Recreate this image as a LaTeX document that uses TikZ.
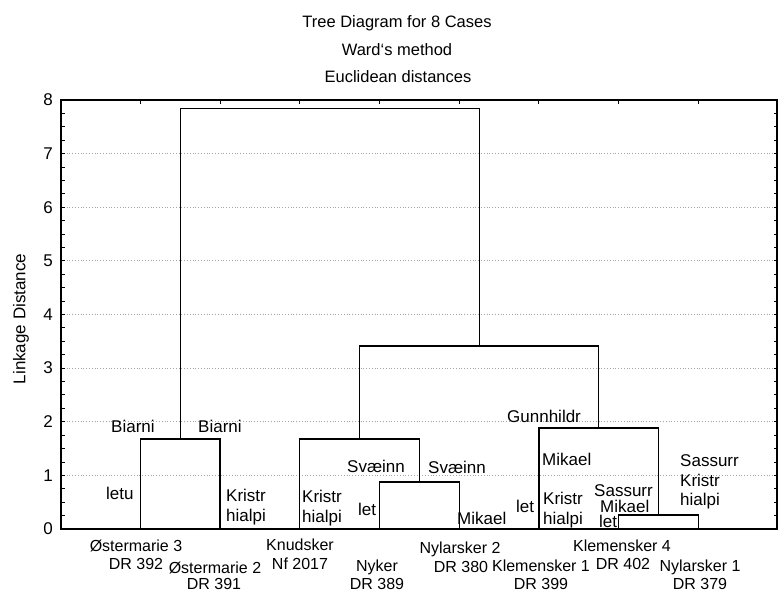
\documentclass[tikz,border=0pt]{standalone}
\usepackage{fontspec}
\setmainfont{Liberation Sans}
\begin{document}
\begin{tikzpicture}[x=1pt,y=-1pt,
  dend/.style={line width=1.3pt},
  framebox/.style={line width=1.2pt},
  gridl/.style={gray!70, line width=0.8pt, dotted},
  tickm/.style={line width=0.9pt},
  lbl/.style={font=\fontsize{17}{20}\selectfont, inner sep=0pt, anchor=base west},
  leaflbl/.style={font=\fontsize{16}{19}\selectfont, inner sep=0pt, anchor=base},
  ticklbl/.style={font=\fontsize{17}{20}\selectfont, inner sep=0pt, anchor=east},
  titlelbl/.style={font=\fontsize{16.5}{19}\selectfont, inner sep=0pt, anchor=base}]
\useasboundingbox (0,0) rectangle (778,592);
% title
\node[titlelbl] (title1) at (397,27) {Tree Diagram for 8 Cases};
\node[titlelbl] (title2) at (397,55) {Ward\symbol{96}s method};
\node[titlelbl] (title3) at (398,82) {Euclidean distances};
% grid
\foreach \v in {1,...,7} \draw[gridl] (61,{529-53.625*\v}) -- (777,{529-53.625*\v});
% ticks
\foreach \v in {1,...,31} {
  \draw[tickm] (61,{529-13.406*\v}) -- ++(3.5,0);
  \draw[tickm] (777,{529-13.406*\v}) -- ++(-3.5,0);
}
\foreach \x in {140.4,220.1,299.8,379.5,459.2,538.9,618.6,698.3} \draw[tickm] (\x,100) -- ++(0,4);
% frame
\draw[framebox] (61,100) rectangle (777,529);
% y tick labels
\foreach \v in {0,...,8} \node[ticklbl] (yt\v) at (53,{529-53.625*\v}) {\v};
\node[font=\fontsize{17}{20}\selectfont, rotate=90, inner sep=0pt] (ylab) at (21,319) {Linkage Distance};
% leaves and joins
\coordinate (l1) at (140.4,529);
\coordinate (l2) at (220.1,529);
\coordinate (l3) at (299.8,529);
\coordinate (l4) at (379.5,529);
\coordinate (l5) at (459.2,529);
\coordinate (l6) at (538.9,529);
\coordinate (l7) at (618.6,529);
\coordinate (l8) at (698.3,529);
\coordinate (j12) at (180.25,439);
\coordinate (j45) at (419.35,482);
\coordinate (j345) at (359.6,439);
\coordinate (j78) at (658.45,515);
\coordinate (j678) at (598.7,428);
\coordinate (j38) at (479.15,346);
\coordinate (root) at (329.7,108.5);
\draw[dend] (l1) |- (j12) -| (l2);
\draw[dend] (l4) |- (j45) -| (l5);
\draw[dend] (l3) |- (j345) -| (j45);
\draw[dend] (l7) |- (j78) -| (l8);
\draw[dend] (l6) |- (j678) -| (j78);
\draw[dend] (j345) |- (j38) -| (j678);
\draw[dend] (j12) |- (root) -| (j38);
% annotations
\node[lbl] (a1) at (111,432) {Biarni};
\node[lbl] (a2) at (198,432) {Biarni};
\node[lbl] (a3) at (106,499) {letu};
\node[lbl] (a4) at (226,501) {Kristr};
\node[lbl] (a5) at (226,521) {hialpi};
\node[lbl] (a6) at (302,502) {Kristr};
\node[lbl] (a7) at (302,522) {hialpi};
\node[lbl] (a8) at (358,515) {let};
\node[lbl] (a9) at (347,472) {Svæinn};
\node[lbl] (a10) at (428,473) {Svæinn};
\node[lbl] (a11) at (457,524) {Mikael};
\node[lbl] (a12) at (516,512) {let};
\node[lbl] (a13) at (507,422) {Gunnhildr};
\node[lbl] (a14) at (542,465) {Mikael};
\node[lbl] (a15) at (543,504) {Kristr};
\node[lbl] (a16) at (543,524) {hialpi};
\node[lbl] (a17) at (594,496) {Sassurr};
\node[lbl] (a18) at (600,512) {Mikael};
\node[lbl] (a19) at (599,527) {let};
\node[lbl] (a20) at (680,466) {Sassurr};
\node[lbl] (a21) at (680,486) {Kristr};
\node[lbl] (a22) at (680,505) {hialpi};
% leaf labels
\node[leaflbl] (b1) at (136,551) {Østermarie 3};
\node[leaflbl] (b2) at (136,569) {DR 392};
\node[leaflbl] (b3) at (215,573) {Østermarie 2};
\node[leaflbl] (b4) at (214,589) {DR 391};
\node[leaflbl] (b5) at (300,550) {Knudsker};
\node[leaflbl] (b6) at (300,569) {Nf 2017};
\node[leaflbl] (b7) at (377,571) {Nyker};
\node[leaflbl] (b8) at (377,589) {DR 389};
\node[leaflbl] (b9) at (460,553) {Nylarsker 2};
\node[leaflbl] (b10) at (461,572) {DR 380};
\node[leaflbl] (b11) at (541,571) {Klemensker 1};
\node[leaflbl] (b12) at (541,589) {DR 399};
\node[leaflbl] (b13) at (622,551) {Klemensker 4};
\node[leaflbl] (b14) at (623,569) {DR 402};
\node[leaflbl] (b15) at (700,571) {Nylarsker 1};
\node[leaflbl] (b16) at (700,589) {DR 379};
\end{tikzpicture}
\end{document}
